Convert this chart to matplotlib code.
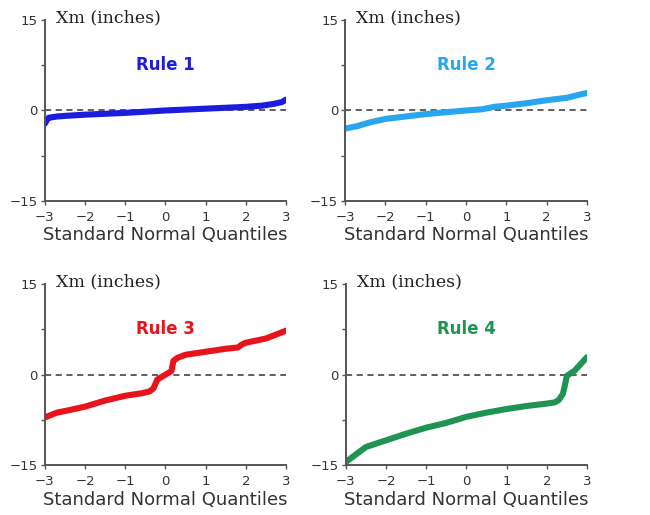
import matplotlib.pyplot as plt

# normal quantiles and the sorted Xm values for each rule
q1 = [-3.0, -2.95, -2.9, -2.7, -2.5, -2.0, -1.5, -1.0, -0.5, 0.0, 0.5, 1.0, 1.5, 2.0, 2.4, 2.7, 2.9, 3.0]
xm1 = [-2.2, -1.6, -1.2, -1.0, -0.9, -0.7, -0.55, -0.4, -0.2, 0.0, 0.15, 0.3, 0.45, 0.6, 0.8, 1.1, 1.4, 1.8]

q2 = [-3.0, -2.7, -2.4, -2.0, -1.5, -1.0, -0.5, 0.0, 0.4, 0.7, 1.0, 1.5, 2.0, 2.5, 2.8, 3.0]
xm2 = [-3.0, -2.6, -2.0, -1.4, -1.0, -0.6, -0.3, 0.0, 0.2, 0.6, 0.8, 1.2, 1.7, 2.1, 2.6, 2.9]

q3 = [-3.0, -2.7, -2.4, -2.0, -1.5, -1.0, -0.6, -0.4, -0.3, -0.2, -0.1, 0.0, 0.15, 0.2, 0.3, 0.5, 1.0, 1.5, 1.8, 1.9, 2.0, 2.5, 3.0]
xm3 = [-7.1, -6.3, -5.9, -5.3, -4.3, -3.5, -3.1, -2.8, -2.3, -0.8, -0.4, 0.0, 0.6, 2.3, 2.8, 3.3, 3.8, 4.3, 4.5, 5.0, 5.3, 6.0, 7.3]

q4 = [-3.0, -2.7, -2.5, -2.0, -1.5, -1.0, -0.5, 0.0, 0.5, 1.0, 1.5, 2.0, 2.2, 2.3, 2.4, 2.45, 2.5, 2.7, 2.85, 3.0]
xm4 = [-14.5, -13.0, -12.0, -10.9, -9.8, -8.8, -8.0, -7.0, -6.3, -5.7, -5.2, -4.8, -4.6, -4.2, -3.2, -1.8, -0.2, 0.7, 1.8, 2.9]

rules = ["Rule 1", "Rule 2", "Rule 3", "Rule 4"]
colors = ["#1c1cdc", "#2aa6ee", "#e8141c", "#1f9452"]
series = [(q1, xm1), (q2, xm2), (q3, xm3), (q4, xm4)]

fig = plt.figure(figsize=(6.5, 5.15), dpi=100)
boxes = [
    [0.069, 0.610, 0.371, 0.351],
    [0.531, 0.610, 0.372, 0.351],
    [0.069, 0.097, 0.371, 0.351],
    [0.532, 0.097, 0.371, 0.351],
]

for box, name, col, (q, xm) in zip(boxes, rules, colors, series):
    ax = fig.add_axes(box)
    ax.set_xlim(-3, 3)
    ax.set_ylim(-15, 15)
    ax.plot([-3, 3], [0, 0], ls=(0, (4, 3)), color="#333333", lw=1.1, zorder=1)
    ax.plot(q, xm, color=col, lw=4.4, solid_capstyle="round",
            solid_joinstyle="round", zorder=2)
    ax.text(0, 7.5, name, color=col, fontsize=12, fontweight="bold",
            ha="center", va="center")
    ax.text(-2.72, 15.4, "Xm (inches)", family="DejaVu Serif", fontsize=12.5,
            color="#222222", ha="left", va="center")

    for s in ["top", "right"]:
        ax.spines[s].set_visible(False)
    for s in ["left", "bottom"]:
        ax.spines[s].set_color("#555555")
        ax.spines[s].set_linewidth(1.4)

    ax.set_xticks([-3, -2, -1, 0, 1, 2, 3])
    ax.set_xticklabels(["\u22123", "\u22122", "\u22121", "0", "1", "2", "3"])
    ax.set_yticks([-15, -7.5, 0, 7.5, 15])
    ax.set_yticklabels(["\u221215", "", "0", "", "15"])
    ax.tick_params(axis="both", length=3, width=1, color="#555555",
                   labelsize=9.5, labelcolor="#333333")
    ax.tick_params(axis="x", pad=4)
    ax.tick_params(axis="y", pad=2)
    ax.set_xlabel("Standard Normal Quantiles", fontsize=13, color="#333333",
                  labelpad=2)

fig.savefig("out.png", dpi=100, facecolor="white")
